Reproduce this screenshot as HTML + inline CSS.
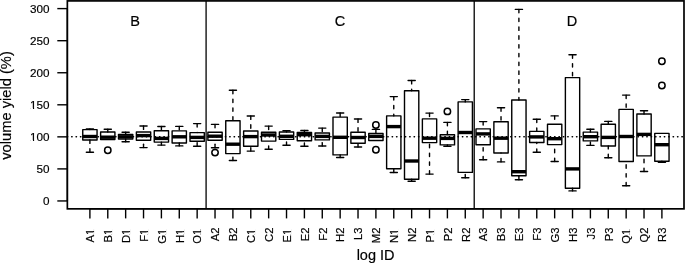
<!DOCTYPE html>
<html><head><meta charset="utf-8"><style>
html,body{margin:0;padding:0;background:#fff;}
body{width:685px;height:263px;overflow:hidden;}
svg{display:block;will-change:transform;font-family:"Liberation Sans",sans-serif;}
</style></head><body>
<svg width="685" height="263" viewBox="0 0 685 263">
<g fill="none" stroke="#000" stroke-width="1.4" font-size="11.7">
<rect x="67.35" y="0.9" width="616.65" height="207.95" fill="none" stroke="#000" stroke-width="1.7"/>
<line x1="206.09" y1="0.9" x2="206.09" y2="208.85" stroke="#000" stroke-width="1.3"/>
<line x1="474.21" y1="0.9" x2="474.21" y2="208.85" stroke="#000" stroke-width="1.3"/>
<line x1="67.26" y1="136.75" x2="683.2" y2="136.75" stroke="#000" stroke-width="1.35" stroke-linecap="round" stroke-dasharray="0.5 3.89"/>
<line x1="89.9" y1="128.9" x2="89.9" y2="129.6" stroke-dasharray="3.4 5.4" stroke-linecap="round"/>
<line x1="86.33" y1="128.9" x2="93.48" y2="128.9" stroke-linecap="round"/>
<line x1="89.9" y1="152.2" x2="89.9" y2="140" stroke-dasharray="3.4 5.4" stroke-linecap="round"/>
<line x1="86.33" y1="152.2" x2="93.48" y2="152.2" stroke-linecap="round"/>
<rect stroke-linejoin="round" x="82.75" y="129.6" width="14.3" height="10.4"/>
<line x1="82.75" y1="136.5" x2="97.05" y2="136.5" stroke-width="3.4" stroke-linecap="butt"/>
<line x1="107.78" y1="129.2" x2="107.78" y2="132" stroke-dasharray="3.4 5.4" stroke-linecap="round"/>
<line x1="104.2" y1="129.2" x2="111.35" y2="129.2" stroke-linecap="round"/>
<rect stroke-linejoin="round" x="100.62" y="132" width="14.3" height="7.5"/>
<line x1="100.62" y1="137.2" x2="114.93" y2="137.2" stroke-width="3.4" stroke-linecap="butt"/>
<circle cx="107.78" cy="150.25" r="3.2" stroke-width="1.5"/>
<line x1="125.65" y1="132.3" x2="125.65" y2="134.5" stroke-dasharray="3.4 5.4" stroke-linecap="round"/>
<line x1="122.08" y1="132.3" x2="129.22" y2="132.3" stroke-linecap="round"/>
<line x1="125.65" y1="141.8" x2="125.65" y2="139" stroke-dasharray="3.4 5.4" stroke-linecap="round"/>
<line x1="122.08" y1="141.8" x2="129.22" y2="141.8" stroke-linecap="round"/>
<rect stroke-linejoin="round" x="118.5" y="134.5" width="14.3" height="4.5"/>
<line x1="118.5" y1="136.8" x2="132.8" y2="136.8" stroke-width="3.4" stroke-linecap="butt"/>
<line x1="143.53" y1="126" x2="143.53" y2="132" stroke-dasharray="3.4 5.4" stroke-linecap="round"/>
<line x1="139.95" y1="126" x2="147.1" y2="126" stroke-linecap="round"/>
<line x1="143.53" y1="147.6" x2="143.53" y2="140.2" stroke-dasharray="3.4 5.4" stroke-linecap="round"/>
<line x1="139.95" y1="147.6" x2="147.1" y2="147.6" stroke-linecap="round"/>
<rect stroke-linejoin="round" x="136.38" y="132" width="14.3" height="8.2"/>
<line x1="136.38" y1="135.6" x2="150.68" y2="135.6" stroke-width="3.4" stroke-linecap="butt"/>
<line x1="161.4" y1="126.5" x2="161.4" y2="130.7" stroke-dasharray="3.4 5.4" stroke-linecap="round"/>
<line x1="157.83" y1="126.5" x2="164.97" y2="126.5" stroke-linecap="round"/>
<line x1="161.4" y1="145.1" x2="161.4" y2="142.1" stroke-dasharray="3.4 5.4" stroke-linecap="round"/>
<line x1="157.83" y1="145.1" x2="164.97" y2="145.1" stroke-linecap="round"/>
<rect stroke-linejoin="round" x="154.25" y="130.7" width="14.3" height="11.4"/>
<line x1="154.25" y1="138.4" x2="168.55" y2="138.4" stroke-width="3.4" stroke-linecap="butt"/>
<line x1="179.28" y1="126.4" x2="179.28" y2="130.9" stroke-dasharray="3.4 5.4" stroke-linecap="round"/>
<line x1="175.7" y1="126.4" x2="182.85" y2="126.4" stroke-linecap="round"/>
<line x1="179.28" y1="145.9" x2="179.28" y2="143" stroke-dasharray="3.4 5.4" stroke-linecap="round"/>
<line x1="175.7" y1="145.9" x2="182.85" y2="145.9" stroke-linecap="round"/>
<rect stroke-linejoin="round" x="172.12" y="130.9" width="14.3" height="12.1"/>
<line x1="172.12" y1="136.8" x2="186.43" y2="136.8" stroke-width="3.4" stroke-linecap="butt"/>
<line x1="197.15" y1="123.6" x2="197.15" y2="132.6" stroke-dasharray="3.4 5.4" stroke-linecap="round"/>
<line x1="193.58" y1="123.6" x2="200.72" y2="123.6" stroke-linecap="round"/>
<line x1="197.15" y1="146.2" x2="197.15" y2="141.2" stroke-dasharray="3.4 5.4" stroke-linecap="round"/>
<line x1="193.58" y1="146.2" x2="200.72" y2="146.2" stroke-linecap="round"/>
<rect stroke-linejoin="round" x="190" y="132.6" width="14.3" height="8.6"/>
<line x1="190" y1="137.4" x2="204.3" y2="137.4" stroke-width="3.4" stroke-linecap="butt"/>
<line x1="215.03" y1="124.4" x2="215.03" y2="132.2" stroke-dasharray="3.4 5.4" stroke-linecap="round"/>
<line x1="211.45" y1="124.4" x2="218.6" y2="124.4" stroke-linecap="round"/>
<line x1="215.03" y1="147.7" x2="215.03" y2="140.3" stroke-dasharray="3.4 5.4" stroke-linecap="round"/>
<line x1="211.45" y1="147.7" x2="218.6" y2="147.7" stroke-linecap="round"/>
<rect stroke-linejoin="round" x="207.88" y="132.2" width="14.3" height="8.1"/>
<line x1="207.88" y1="136.2" x2="222.18" y2="136.2" stroke-width="3.4" stroke-linecap="butt"/>
<circle cx="215.03" cy="152.6" r="3.2" stroke-width="1.5"/>
<line x1="232.9" y1="90.3" x2="232.9" y2="120.7" stroke-dasharray="3.4 5.4" stroke-linecap="round"/>
<line x1="229.33" y1="90.3" x2="236.47" y2="90.3" stroke-linecap="round"/>
<line x1="232.9" y1="160.5" x2="232.9" y2="153.6" stroke-dasharray="3.4 5.4" stroke-linecap="round"/>
<line x1="229.33" y1="160.5" x2="236.47" y2="160.5" stroke-linecap="round"/>
<rect stroke-linejoin="round" x="225.75" y="120.7" width="14.3" height="32.9"/>
<line x1="225.75" y1="144.2" x2="240.05" y2="144.2" stroke-width="3.4" stroke-linecap="butt"/>
<line x1="250.78" y1="116" x2="250.78" y2="131" stroke-dasharray="3.4 5.4" stroke-linecap="round"/>
<line x1="247.2" y1="116" x2="254.35" y2="116" stroke-linecap="round"/>
<line x1="250.78" y1="151.1" x2="250.78" y2="146.2" stroke-dasharray="3.4 5.4" stroke-linecap="round"/>
<line x1="247.2" y1="151.1" x2="254.35" y2="151.1" stroke-linecap="round"/>
<rect stroke-linejoin="round" x="243.62" y="131" width="14.3" height="15.2"/>
<line x1="243.62" y1="136.6" x2="257.93" y2="136.6" stroke-width="3.4" stroke-linecap="butt"/>
<line x1="268.65" y1="126.1" x2="268.65" y2="132.3" stroke-dasharray="3.4 5.4" stroke-linecap="round"/>
<line x1="265.07" y1="126.1" x2="272.22" y2="126.1" stroke-linecap="round"/>
<line x1="268.65" y1="149.3" x2="268.65" y2="141.1" stroke-dasharray="3.4 5.4" stroke-linecap="round"/>
<line x1="265.07" y1="149.3" x2="272.22" y2="149.3" stroke-linecap="round"/>
<rect stroke-linejoin="round" x="261.5" y="132.3" width="14.3" height="8.8"/>
<line x1="261.5" y1="135" x2="275.8" y2="135" stroke-width="3.4" stroke-linecap="butt"/>
<line x1="286.52" y1="130.8" x2="286.52" y2="132" stroke-dasharray="3.4 5.4" stroke-linecap="round"/>
<line x1="282.95" y1="130.8" x2="290.1" y2="130.8" stroke-linecap="round"/>
<line x1="286.52" y1="145.3" x2="286.52" y2="139.4" stroke-dasharray="3.4 5.4" stroke-linecap="round"/>
<line x1="282.95" y1="145.3" x2="290.1" y2="145.3" stroke-linecap="round"/>
<rect stroke-linejoin="round" x="279.38" y="132" width="14.3" height="7.4"/>
<line x1="279.38" y1="136.3" x2="293.67" y2="136.3" stroke-width="3.4" stroke-linecap="butt"/>
<line x1="304.4" y1="130.5" x2="304.4" y2="132.5" stroke-dasharray="3.4 5.4" stroke-linecap="round"/>
<line x1="300.82" y1="130.5" x2="307.97" y2="130.5" stroke-linecap="round"/>
<line x1="304.4" y1="146.3" x2="304.4" y2="140.7" stroke-dasharray="3.4 5.4" stroke-linecap="round"/>
<line x1="300.82" y1="146.3" x2="307.97" y2="146.3" stroke-linecap="round"/>
<rect stroke-linejoin="round" x="297.25" y="132.5" width="14.3" height="8.2"/>
<line x1="297.25" y1="134.7" x2="311.55" y2="134.7" stroke-width="3.4" stroke-linecap="butt"/>
<line x1="322.27" y1="128.1" x2="322.27" y2="133" stroke-dasharray="3.4 5.4" stroke-linecap="round"/>
<line x1="318.7" y1="128.1" x2="325.85" y2="128.1" stroke-linecap="round"/>
<line x1="322.27" y1="146" x2="322.27" y2="139.9" stroke-dasharray="3.4 5.4" stroke-linecap="round"/>
<line x1="318.7" y1="146" x2="325.85" y2="146" stroke-linecap="round"/>
<rect stroke-linejoin="round" x="315.12" y="133" width="14.3" height="6.9"/>
<line x1="315.12" y1="136.4" x2="329.42" y2="136.4" stroke-width="3.4" stroke-linecap="butt"/>
<line x1="340.15" y1="113" x2="340.15" y2="117.1" stroke-dasharray="3.4 5.4" stroke-linecap="round"/>
<line x1="336.57" y1="113" x2="343.72" y2="113" stroke-linecap="round"/>
<line x1="340.15" y1="157.5" x2="340.15" y2="154.9" stroke-dasharray="3.4 5.4" stroke-linecap="round"/>
<line x1="336.57" y1="157.5" x2="343.72" y2="157.5" stroke-linecap="round"/>
<rect stroke-linejoin="round" x="333" y="117.1" width="14.3" height="37.8"/>
<line x1="333" y1="137.3" x2="347.3" y2="137.3" stroke-width="3.4" stroke-linecap="butt"/>
<line x1="358.02" y1="119" x2="358.02" y2="132.3" stroke-dasharray="3.4 5.4" stroke-linecap="round"/>
<line x1="354.45" y1="119" x2="361.6" y2="119" stroke-linecap="round"/>
<line x1="358.02" y1="147" x2="358.02" y2="143.3" stroke-dasharray="3.4 5.4" stroke-linecap="round"/>
<line x1="354.45" y1="147" x2="361.6" y2="147" stroke-linecap="round"/>
<rect stroke-linejoin="round" x="350.88" y="132.3" width="14.3" height="11"/>
<line x1="350.88" y1="137.5" x2="365.17" y2="137.5" stroke-width="3.4" stroke-linecap="butt"/>
<line x1="375.9" y1="129.4" x2="375.9" y2="133.5" stroke-dasharray="3.4 5.4" stroke-linecap="round"/>
<line x1="372.32" y1="129.4" x2="379.47" y2="129.4" stroke-linecap="round"/>
<rect stroke-linejoin="round" x="368.75" y="133.5" width="14.3" height="7"/>
<line x1="368.75" y1="136.4" x2="383.05" y2="136.4" stroke-width="3.4" stroke-linecap="butt"/>
<circle cx="375.9" cy="125" r="3.2" stroke-width="1.5"/>
<circle cx="375.9" cy="149.8" r="3.2" stroke-width="1.5"/>
<line x1="393.77" y1="96.6" x2="393.77" y2="115.9" stroke-dasharray="3.4 5.4" stroke-linecap="round"/>
<line x1="390.2" y1="96.6" x2="397.35" y2="96.6" stroke-linecap="round"/>
<line x1="393.77" y1="172.5" x2="393.77" y2="168.8" stroke-dasharray="3.4 5.4" stroke-linecap="round"/>
<line x1="390.2" y1="172.5" x2="397.35" y2="172.5" stroke-linecap="round"/>
<rect stroke-linejoin="round" x="386.62" y="115.9" width="14.3" height="52.9"/>
<line x1="386.62" y1="126.6" x2="400.92" y2="126.6" stroke-width="3.4" stroke-linecap="butt"/>
<line x1="411.65" y1="80.5" x2="411.65" y2="90.7" stroke-dasharray="3.4 5.4" stroke-linecap="round"/>
<line x1="408.07" y1="80.5" x2="415.22" y2="80.5" stroke-linecap="round"/>
<line x1="411.65" y1="181.2" x2="411.65" y2="179.2" stroke-dasharray="3.4 5.4" stroke-linecap="round"/>
<line x1="408.07" y1="181.2" x2="415.22" y2="181.2" stroke-linecap="round"/>
<rect stroke-linejoin="round" x="404.5" y="90.7" width="14.3" height="88.5"/>
<line x1="404.5" y1="161" x2="418.8" y2="161" stroke-width="3.4" stroke-linecap="butt"/>
<line x1="429.52" y1="113.1" x2="429.52" y2="118.9" stroke-dasharray="3.4 5.4" stroke-linecap="round"/>
<line x1="425.95" y1="113.1" x2="433.1" y2="113.1" stroke-linecap="round"/>
<line x1="429.52" y1="174.1" x2="429.52" y2="142.6" stroke-dasharray="3.4 5.4" stroke-linecap="round"/>
<line x1="425.95" y1="174.1" x2="433.1" y2="174.1" stroke-linecap="round"/>
<rect stroke-linejoin="round" x="422.38" y="118.9" width="14.3" height="23.7"/>
<line x1="422.38" y1="138.2" x2="436.67" y2="138.2" stroke-width="3.4" stroke-linecap="butt"/>
<line x1="447.4" y1="122.4" x2="447.4" y2="134.8" stroke-dasharray="3.4 5.4" stroke-linecap="round"/>
<line x1="443.82" y1="122.4" x2="450.97" y2="122.4" stroke-linecap="round"/>
<line x1="447.4" y1="146.3" x2="447.4" y2="144.9" stroke-dasharray="3.4 5.4" stroke-linecap="round"/>
<line x1="443.82" y1="146.3" x2="450.97" y2="146.3" stroke-linecap="round"/>
<rect stroke-linejoin="round" x="440.25" y="134.8" width="14.3" height="10.1"/>
<line x1="440.25" y1="138.4" x2="454.55" y2="138.4" stroke-width="3.4" stroke-linecap="butt"/>
<circle cx="447.4" cy="111.4" r="3.2" stroke-width="1.5"/>
<line x1="465.27" y1="99.6" x2="465.27" y2="101.9" stroke-dasharray="3.4 5.4" stroke-linecap="round"/>
<line x1="461.7" y1="99.6" x2="468.85" y2="99.6" stroke-linecap="round"/>
<line x1="465.27" y1="177.8" x2="465.27" y2="172.4" stroke-dasharray="3.4 5.4" stroke-linecap="round"/>
<line x1="461.7" y1="177.8" x2="468.85" y2="177.8" stroke-linecap="round"/>
<rect stroke-linejoin="round" x="458.12" y="101.9" width="14.3" height="70.5"/>
<line x1="458.12" y1="132.5" x2="472.42" y2="132.5" stroke-width="3.4" stroke-linecap="butt"/>
<line x1="483.15" y1="121.6" x2="483.15" y2="128.9" stroke-dasharray="3.4 5.4" stroke-linecap="round"/>
<line x1="479.57" y1="121.6" x2="486.72" y2="121.6" stroke-linecap="round"/>
<line x1="483.15" y1="159.8" x2="483.15" y2="144.8" stroke-dasharray="3.4 5.4" stroke-linecap="round"/>
<line x1="479.57" y1="159.8" x2="486.72" y2="159.8" stroke-linecap="round"/>
<rect stroke-linejoin="round" x="476" y="128.9" width="14.3" height="15.9"/>
<line x1="476" y1="133.9" x2="490.3" y2="133.9" stroke-width="3.4" stroke-linecap="butt"/>
<line x1="501.02" y1="107.8" x2="501.02" y2="121.7" stroke-dasharray="3.4 5.4" stroke-linecap="round"/>
<line x1="497.45" y1="107.8" x2="504.6" y2="107.8" stroke-linecap="round"/>
<line x1="501.02" y1="161.9" x2="501.02" y2="153" stroke-dasharray="3.4 5.4" stroke-linecap="round"/>
<line x1="497.45" y1="161.9" x2="504.6" y2="161.9" stroke-linecap="round"/>
<rect stroke-linejoin="round" x="493.88" y="121.7" width="14.3" height="31.3"/>
<line x1="493.88" y1="138.2" x2="508.17" y2="138.2" stroke-width="3.4" stroke-linecap="butt"/>
<line x1="518.9" y1="9.4" x2="518.9" y2="100" stroke-dasharray="3.4 5.4" stroke-linecap="round"/>
<line x1="515.32" y1="9.4" x2="522.48" y2="9.4" stroke-linecap="round"/>
<line x1="518.9" y1="179.7" x2="518.9" y2="175.8" stroke-dasharray="3.4 5.4" stroke-linecap="round"/>
<line x1="515.32" y1="179.7" x2="522.48" y2="179.7" stroke-linecap="round"/>
<rect stroke-linejoin="round" x="511.75" y="100" width="14.3" height="75.8"/>
<line x1="511.75" y1="171.7" x2="526.05" y2="171.7" stroke-width="3.4" stroke-linecap="butt"/>
<line x1="536.77" y1="119.2" x2="536.77" y2="131.4" stroke-dasharray="3.4 5.4" stroke-linecap="round"/>
<line x1="533.2" y1="119.2" x2="540.35" y2="119.2" stroke-linecap="round"/>
<line x1="536.77" y1="152.3" x2="536.77" y2="142.5" stroke-dasharray="3.4 5.4" stroke-linecap="round"/>
<line x1="533.2" y1="152.3" x2="540.35" y2="152.3" stroke-linecap="round"/>
<rect stroke-linejoin="round" x="529.62" y="131.4" width="14.3" height="11.1"/>
<line x1="529.62" y1="136.9" x2="543.92" y2="136.9" stroke-width="3.4" stroke-linecap="butt"/>
<line x1="554.65" y1="115.9" x2="554.65" y2="124.3" stroke-dasharray="3.4 5.4" stroke-linecap="round"/>
<line x1="551.07" y1="115.9" x2="558.23" y2="115.9" stroke-linecap="round"/>
<line x1="554.65" y1="161.5" x2="554.65" y2="144.6" stroke-dasharray="3.4 5.4" stroke-linecap="round"/>
<line x1="551.07" y1="161.5" x2="558.23" y2="161.5" stroke-linecap="round"/>
<rect stroke-linejoin="round" x="547.5" y="124.3" width="14.3" height="20.3"/>
<line x1="547.5" y1="138.7" x2="561.8" y2="138.7" stroke-width="3.4" stroke-linecap="butt"/>
<line x1="572.52" y1="54.8" x2="572.52" y2="77.6" stroke-dasharray="3.4 5.4" stroke-linecap="round"/>
<line x1="568.95" y1="54.8" x2="576.1" y2="54.8" stroke-linecap="round"/>
<line x1="572.52" y1="190.9" x2="572.52" y2="188.2" stroke-dasharray="3.4 5.4" stroke-linecap="round"/>
<line x1="568.95" y1="190.9" x2="576.1" y2="190.9" stroke-linecap="round"/>
<rect stroke-linejoin="round" x="565.38" y="77.6" width="14.3" height="110.6"/>
<line x1="565.38" y1="168.9" x2="579.67" y2="168.9" stroke-width="3.4" stroke-linecap="butt"/>
<line x1="590.4" y1="129.3" x2="590.4" y2="132.1" stroke-dasharray="3.4 5.4" stroke-linecap="round"/>
<line x1="586.82" y1="129.3" x2="593.98" y2="129.3" stroke-linecap="round"/>
<line x1="590.4" y1="145.4" x2="590.4" y2="140.9" stroke-dasharray="3.4 5.4" stroke-linecap="round"/>
<line x1="586.82" y1="145.4" x2="593.98" y2="145.4" stroke-linecap="round"/>
<rect stroke-linejoin="round" x="583.25" y="132.1" width="14.3" height="8.8"/>
<line x1="583.25" y1="136.7" x2="597.55" y2="136.7" stroke-width="3.4" stroke-linecap="butt"/>
<line x1="608.27" y1="121.4" x2="608.27" y2="124.2" stroke-dasharray="3.4 5.4" stroke-linecap="round"/>
<line x1="604.7" y1="121.4" x2="611.85" y2="121.4" stroke-linecap="round"/>
<line x1="608.27" y1="157.7" x2="608.27" y2="146" stroke-dasharray="3.4 5.4" stroke-linecap="round"/>
<line x1="604.7" y1="157.7" x2="611.85" y2="157.7" stroke-linecap="round"/>
<rect stroke-linejoin="round" x="601.12" y="124.2" width="14.3" height="21.8"/>
<line x1="601.12" y1="137.4" x2="615.42" y2="137.4" stroke-width="3.4" stroke-linecap="butt"/>
<line x1="626.15" y1="95.1" x2="626.15" y2="109.4" stroke-dasharray="3.4 5.4" stroke-linecap="round"/>
<line x1="622.57" y1="95.1" x2="629.73" y2="95.1" stroke-linecap="round"/>
<line x1="626.15" y1="185.8" x2="626.15" y2="161.5" stroke-dasharray="3.4 5.4" stroke-linecap="round"/>
<line x1="622.57" y1="185.8" x2="629.73" y2="185.8" stroke-linecap="round"/>
<rect stroke-linejoin="round" x="619" y="109.4" width="14.3" height="52.1"/>
<line x1="619" y1="136.5" x2="633.3" y2="136.5" stroke-width="3.4" stroke-linecap="butt"/>
<line x1="644.02" y1="110.8" x2="644.02" y2="114" stroke-dasharray="3.4 5.4" stroke-linecap="round"/>
<line x1="640.45" y1="110.8" x2="647.6" y2="110.8" stroke-linecap="round"/>
<line x1="644.02" y1="171.5" x2="644.02" y2="155.9" stroke-dasharray="3.4 5.4" stroke-linecap="round"/>
<line x1="640.45" y1="171.5" x2="647.6" y2="171.5" stroke-linecap="round"/>
<rect stroke-linejoin="round" x="636.88" y="114" width="14.3" height="41.9"/>
<line x1="636.88" y1="134.4" x2="651.17" y2="134.4" stroke-width="3.4" stroke-linecap="butt"/>
<line x1="661.9" y1="162.3" x2="661.9" y2="161.3" stroke-dasharray="3.4 5.4" stroke-linecap="round"/>
<line x1="658.32" y1="162.3" x2="665.48" y2="162.3" stroke-linecap="round"/>
<rect stroke-linejoin="round" x="654.75" y="133.4" width="14.3" height="27.9"/>
<line x1="654.75" y1="144.7" x2="669.05" y2="144.7" stroke-width="3.4" stroke-linecap="butt"/>
<circle cx="661.9" cy="61.3" r="3.2" stroke-width="1.5"/>
<circle cx="661.9" cy="85.5" r="3.2" stroke-width="1.5"/>
<line x1="67.35" y1="200.95" x2="67.35" y2="8.6"/>
<line x1="57.3" y1="200.95" x2="67.35" y2="200.95"/>
<text fill="#000" stroke="#000" stroke-width="0.18" x="49.6" y="205.15" text-anchor="end">0</text>
<line x1="57.3" y1="168.9" x2="67.35" y2="168.9"/>
<text fill="#000" stroke="#000" stroke-width="0.18" x="49.6" y="173.1" text-anchor="end">50</text>
<line x1="57.3" y1="136.85" x2="67.35" y2="136.85"/>
<text fill="#000" stroke="#000" stroke-width="0.18" x="49.6" y="141.05" text-anchor="end">100</text>
<rect x="30.59" y="139.93" width="2.37" height="1.62" fill="#fff" stroke="none"/><rect x="34.13" y="139.93" width="2.28" height="1.62" fill="#fff" stroke="none"/>
<line x1="57.3" y1="104.8" x2="67.35" y2="104.8"/>
<text fill="#000" stroke="#000" stroke-width="0.18" x="49.6" y="109" text-anchor="end">150</text>
<rect x="30.59" y="107.88" width="2.37" height="1.62" fill="#fff" stroke="none"/><rect x="34.13" y="107.88" width="2.28" height="1.62" fill="#fff" stroke="none"/>
<line x1="57.3" y1="72.75" x2="67.35" y2="72.75"/>
<text fill="#000" stroke="#000" stroke-width="0.18" x="49.6" y="76.95" text-anchor="end">200</text>
<line x1="57.3" y1="40.7" x2="67.35" y2="40.7"/>
<text fill="#000" stroke="#000" stroke-width="0.18" x="49.6" y="44.9" text-anchor="end">250</text>
<line x1="57.3" y1="8.6" x2="67.35" y2="8.6"/>
<text fill="#000" stroke="#000" stroke-width="0.18" x="49.6" y="12.8" text-anchor="end">300</text>
<line x1="89.9" y1="208.85" x2="661.9" y2="208.85"/>
<line x1="89.9" y1="208.85" x2="89.9" y2="218.4"/>
<g transform="translate(94.2,228.7) rotate(-90) scale(0.96,1)"><text fill="#000" stroke="#000" stroke-width="0.18" x="0" y="0" text-anchor="end">A1</text><rect x="-6.00" y="-1.12" width="2.37" height="1.62" fill="#fff" stroke="none"/><rect x="-2.46" y="-1.12" width="2.28" height="1.62" fill="#fff" stroke="none"/></g>
<line x1="107.78" y1="208.85" x2="107.78" y2="218.4"/>
<g transform="translate(112.08,228.7) rotate(-90) scale(0.96,1)"><text fill="#000" stroke="#000" stroke-width="0.18" x="0" y="0" text-anchor="end">B1</text><rect x="-6.00" y="-1.12" width="2.37" height="1.62" fill="#fff" stroke="none"/><rect x="-2.46" y="-1.12" width="2.28" height="1.62" fill="#fff" stroke="none"/></g>
<line x1="125.65" y1="208.85" x2="125.65" y2="218.4"/>
<g transform="translate(129.95,228.7) rotate(-90) scale(0.96,1)"><text fill="#000" stroke="#000" stroke-width="0.18" x="0" y="0" text-anchor="end">D1</text><rect x="-6.00" y="-1.12" width="2.37" height="1.62" fill="#fff" stroke="none"/><rect x="-2.46" y="-1.12" width="2.28" height="1.62" fill="#fff" stroke="none"/></g>
<line x1="143.53" y1="208.85" x2="143.53" y2="218.4"/>
<g transform="translate(147.83,228.7) rotate(-90) scale(0.96,1)"><text fill="#000" stroke="#000" stroke-width="0.18" x="0" y="0" text-anchor="end">F1</text><rect x="-6.00" y="-1.12" width="2.37" height="1.62" fill="#fff" stroke="none"/><rect x="-2.46" y="-1.12" width="2.28" height="1.62" fill="#fff" stroke="none"/></g>
<line x1="161.4" y1="208.85" x2="161.4" y2="218.4"/>
<g transform="translate(165.7,228.7) rotate(-90) scale(0.96,1)"><text fill="#000" stroke="#000" stroke-width="0.18" x="0" y="0" text-anchor="end">G1</text><rect x="-6.00" y="-1.12" width="2.37" height="1.62" fill="#fff" stroke="none"/><rect x="-2.46" y="-1.12" width="2.28" height="1.62" fill="#fff" stroke="none"/></g>
<line x1="179.28" y1="208.85" x2="179.28" y2="218.4"/>
<g transform="translate(183.58,228.7) rotate(-90) scale(0.96,1)"><text fill="#000" stroke="#000" stroke-width="0.18" x="0" y="0" text-anchor="end">H1</text><rect x="-6.00" y="-1.12" width="2.37" height="1.62" fill="#fff" stroke="none"/><rect x="-2.46" y="-1.12" width="2.28" height="1.62" fill="#fff" stroke="none"/></g>
<line x1="197.15" y1="208.85" x2="197.15" y2="218.4"/>
<g transform="translate(201.45,228.7) rotate(-90) scale(0.96,1)"><text fill="#000" stroke="#000" stroke-width="0.18" x="0" y="0" text-anchor="end">O1</text><rect x="-6.00" y="-1.12" width="2.37" height="1.62" fill="#fff" stroke="none"/><rect x="-2.46" y="-1.12" width="2.28" height="1.62" fill="#fff" stroke="none"/></g>
<line x1="215.03" y1="208.85" x2="215.03" y2="218.4"/>
<g transform="translate(219.33,227.6) rotate(-90) scale(0.96,1)"><text fill="#000" stroke="#000" stroke-width="0.18" x="0" y="0" text-anchor="end">A2</text></g>
<line x1="232.9" y1="208.85" x2="232.9" y2="218.4"/>
<g transform="translate(237.2,227.6) rotate(-90) scale(0.96,1)"><text fill="#000" stroke="#000" stroke-width="0.18" x="0" y="0" text-anchor="end">B2</text></g>
<line x1="250.78" y1="208.85" x2="250.78" y2="218.4"/>
<g transform="translate(255.08,228.7) rotate(-90) scale(0.96,1)"><text fill="#000" stroke="#000" stroke-width="0.18" x="0" y="0" text-anchor="end">C1</text><rect x="-6.00" y="-1.12" width="2.37" height="1.62" fill="#fff" stroke="none"/><rect x="-2.46" y="-1.12" width="2.28" height="1.62" fill="#fff" stroke="none"/></g>
<line x1="268.65" y1="208.85" x2="268.65" y2="218.4"/>
<g transform="translate(272.95,227.6) rotate(-90) scale(0.96,1)"><text fill="#000" stroke="#000" stroke-width="0.18" x="0" y="0" text-anchor="end">C2</text></g>
<line x1="286.52" y1="208.85" x2="286.52" y2="218.4"/>
<g transform="translate(290.82,228.7) rotate(-90) scale(0.96,1)"><text fill="#000" stroke="#000" stroke-width="0.18" x="0" y="0" text-anchor="end">E1</text><rect x="-6.00" y="-1.12" width="2.37" height="1.62" fill="#fff" stroke="none"/><rect x="-2.46" y="-1.12" width="2.28" height="1.62" fill="#fff" stroke="none"/></g>
<line x1="304.4" y1="208.85" x2="304.4" y2="218.4"/>
<g transform="translate(308.7,227.6) rotate(-90) scale(0.96,1)"><text fill="#000" stroke="#000" stroke-width="0.18" x="0" y="0" text-anchor="end">E2</text></g>
<line x1="322.27" y1="208.85" x2="322.27" y2="218.4"/>
<g transform="translate(326.57,227.6) rotate(-90) scale(0.96,1)"><text fill="#000" stroke="#000" stroke-width="0.18" x="0" y="0" text-anchor="end">F2</text></g>
<line x1="340.15" y1="208.85" x2="340.15" y2="218.4"/>
<g transform="translate(344.45,227.6) rotate(-90) scale(0.96,1)"><text fill="#000" stroke="#000" stroke-width="0.18" x="0" y="0" text-anchor="end">H2</text></g>
<line x1="358.02" y1="208.85" x2="358.02" y2="218.4"/>
<g transform="translate(362.32,227.6) rotate(-90) scale(0.96,1)"><text fill="#000" stroke="#000" stroke-width="0.18" x="0" y="0" text-anchor="end">L3</text></g>
<line x1="375.9" y1="208.85" x2="375.9" y2="218.4"/>
<g transform="translate(380.2,227.6) rotate(-90) scale(0.96,1)"><text fill="#000" stroke="#000" stroke-width="0.18" x="0" y="0" text-anchor="end">M2</text></g>
<line x1="393.77" y1="208.85" x2="393.77" y2="218.4"/>
<g transform="translate(398.07,228.7) rotate(-90) scale(0.96,1)"><text fill="#000" stroke="#000" stroke-width="0.18" x="0" y="0" text-anchor="end">N1</text><rect x="-6.00" y="-1.12" width="2.37" height="1.62" fill="#fff" stroke="none"/><rect x="-2.46" y="-1.12" width="2.28" height="1.62" fill="#fff" stroke="none"/></g>
<line x1="411.65" y1="208.85" x2="411.65" y2="218.4"/>
<g transform="translate(415.95,227.6) rotate(-90) scale(0.96,1)"><text fill="#000" stroke="#000" stroke-width="0.18" x="0" y="0" text-anchor="end">N2</text></g>
<line x1="429.52" y1="208.85" x2="429.52" y2="218.4"/>
<g transform="translate(433.82,228.7) rotate(-90) scale(0.96,1)"><text fill="#000" stroke="#000" stroke-width="0.18" x="0" y="0" text-anchor="end">P1</text><rect x="-6.00" y="-1.12" width="2.37" height="1.62" fill="#fff" stroke="none"/><rect x="-2.46" y="-1.12" width="2.28" height="1.62" fill="#fff" stroke="none"/></g>
<line x1="447.4" y1="208.85" x2="447.4" y2="218.4"/>
<g transform="translate(451.7,227.6) rotate(-90) scale(0.96,1)"><text fill="#000" stroke="#000" stroke-width="0.18" x="0" y="0" text-anchor="end">P2</text></g>
<line x1="465.27" y1="208.85" x2="465.27" y2="218.4"/>
<g transform="translate(469.57,227.6) rotate(-90) scale(0.96,1)"><text fill="#000" stroke="#000" stroke-width="0.18" x="0" y="0" text-anchor="end">R2</text></g>
<line x1="483.15" y1="208.85" x2="483.15" y2="218.4"/>
<g transform="translate(487.45,227.6) rotate(-90) scale(0.96,1)"><text fill="#000" stroke="#000" stroke-width="0.18" x="0" y="0" text-anchor="end">A3</text></g>
<line x1="501.02" y1="208.85" x2="501.02" y2="218.4"/>
<g transform="translate(505.32,227.6) rotate(-90) scale(0.96,1)"><text fill="#000" stroke="#000" stroke-width="0.18" x="0" y="0" text-anchor="end">B3</text></g>
<line x1="518.9" y1="208.85" x2="518.9" y2="218.4"/>
<g transform="translate(523.2,227.6) rotate(-90) scale(0.96,1)"><text fill="#000" stroke="#000" stroke-width="0.18" x="0" y="0" text-anchor="end">E3</text></g>
<line x1="536.77" y1="208.85" x2="536.77" y2="218.4"/>
<g transform="translate(541.07,227.6) rotate(-90) scale(0.96,1)"><text fill="#000" stroke="#000" stroke-width="0.18" x="0" y="0" text-anchor="end">F3</text></g>
<line x1="554.65" y1="208.85" x2="554.65" y2="218.4"/>
<g transform="translate(558.95,227.6) rotate(-90) scale(0.96,1)"><text fill="#000" stroke="#000" stroke-width="0.18" x="0" y="0" text-anchor="end">G3</text></g>
<line x1="572.52" y1="208.85" x2="572.52" y2="218.4"/>
<g transform="translate(576.82,227.6) rotate(-90) scale(0.96,1)"><text fill="#000" stroke="#000" stroke-width="0.18" x="0" y="0" text-anchor="end">H3</text></g>
<line x1="590.4" y1="208.85" x2="590.4" y2="218.4"/>
<g transform="translate(594.7,227.6) rotate(-90) scale(0.96,1)"><text fill="#000" stroke="#000" stroke-width="0.18" x="0" y="0" text-anchor="end">J3</text></g>
<line x1="608.27" y1="208.85" x2="608.27" y2="218.4"/>
<g transform="translate(612.57,227.6) rotate(-90) scale(0.96,1)"><text fill="#000" stroke="#000" stroke-width="0.18" x="0" y="0" text-anchor="end">P3</text></g>
<line x1="626.15" y1="208.85" x2="626.15" y2="218.4"/>
<g transform="translate(630.45,228.7) rotate(-90) scale(0.96,1)"><text fill="#000" stroke="#000" stroke-width="0.18" x="0" y="0" text-anchor="end">Q1</text><rect x="-6.00" y="-1.12" width="2.37" height="1.62" fill="#fff" stroke="none"/><rect x="-2.46" y="-1.12" width="2.28" height="1.62" fill="#fff" stroke="none"/></g>
<line x1="644.02" y1="208.85" x2="644.02" y2="218.4"/>
<g transform="translate(648.32,227.6) rotate(-90) scale(0.96,1)"><text fill="#000" stroke="#000" stroke-width="0.18" x="0" y="0" text-anchor="end">Q2</text></g>
<line x1="661.9" y1="208.85" x2="661.9" y2="218.4"/>
<g transform="translate(666.2,227.6) rotate(-90) scale(0.96,1)"><text fill="#000" stroke="#000" stroke-width="0.18" x="0" y="0" text-anchor="end">R3</text></g>
<text fill="#000" stroke="#000" stroke-width="0.18" x="375.6" y="259.6" text-anchor="middle" font-size="14.5">log ID</text>
<text fill="#000" stroke="#000" stroke-width="0.18" transform="translate(10.6,105.5) rotate(-90)" text-anchor="middle" font-size="14.7">volume yield (%)</text>
<text fill="#000" stroke="#000" stroke-width="0.18" x="135.1" y="26.1" text-anchor="middle" font-size="14.5">B</text>
<text fill="#000" stroke="#000" stroke-width="0.18" x="340.0" y="26.1" text-anchor="middle" font-size="14.5">C</text>
<text fill="#000" stroke="#000" stroke-width="0.18" x="572.1" y="26.1" text-anchor="middle" font-size="14.5">D</text>
</g>
</svg>
</body></html>
